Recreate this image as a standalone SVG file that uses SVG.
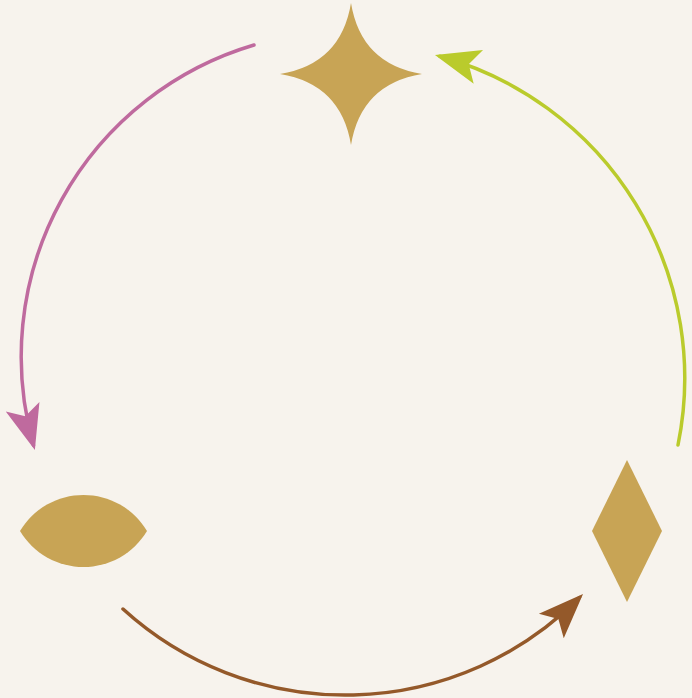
<svg xmlns="http://www.w3.org/2000/svg" width="692" height="698" viewBox="0 0 692 698">
  <style>
    .node { fill: #C8A455; }
    .edge { fill: none; stroke-width: 3.5; stroke-linecap: round; }
  </style>
  <defs>
    <marker id="mk-magenta" markerUnits="userSpaceOnUse" viewBox="-48 -20 50 40" markerWidth="50" markerHeight="40" refX="-5" refY="0" orient="auto">
      <path d="M0,0 L-45,-17.5 L-35,0 L-45,17.5 Z" fill="#BF6A9E"/>
    </marker>
    <marker id="mk-green" markerUnits="userSpaceOnUse" viewBox="-48 -20 50 40" markerWidth="50" markerHeight="40" refX="-5" refY="0" orient="auto">
      <path d="M0,0 L-45,-17.5 L-35,0 L-45,17.5 Z" fill="#BACB2C"/>
    </marker>
    <marker id="mk-brown" markerUnits="userSpaceOnUse" viewBox="-48 -20 50 40" markerWidth="50" markerHeight="40" refX="-5" refY="0" orient="auto">
      <path d="M0,0 L-45,-17.5 L-35,0 L-45,17.5 Z" fill="#94592A"/>
    </marker>
  </defs>
  <rect width="692" height="698" fill="#F7F3ED"/>

  <g id="connectors">
    <path class="edge" stroke="#BF6A9E" stroke-linecap="butt" d="M254,45 A325,325 0 0 0 33.5,445.2" marker-end="url(#mk-magenta)"/>
    <path class="edge" stroke="#BACB2C" d="M678,445 A334,334 0 0 0 439.8,56.3" marker-end="url(#mk-green)"/>
    <path class="edge" stroke="#94592A" d="M123,609 A330,330 0 0 0 579.5,597.6" marker-end="url(#mk-brown)"/>
  </g>

  <g id="node-star">
    <path class="node" d="M351,3 Q361,64 422,74 Q361,84 351,145 Q341,84 280,74 Q341,64 351,3 Z"/>
  </g>
  <g id="node-lens">
    <path class="node" d="M20,531 A74,74 0 0 1 147,531 A74,74 0 0 1 20,531 Z"/>
  </g>
  <g id="node-diamond">
    <path class="node" d="M627,460 L662,531 L627,602 L592,531 Z"/>
  </g>
</svg>
